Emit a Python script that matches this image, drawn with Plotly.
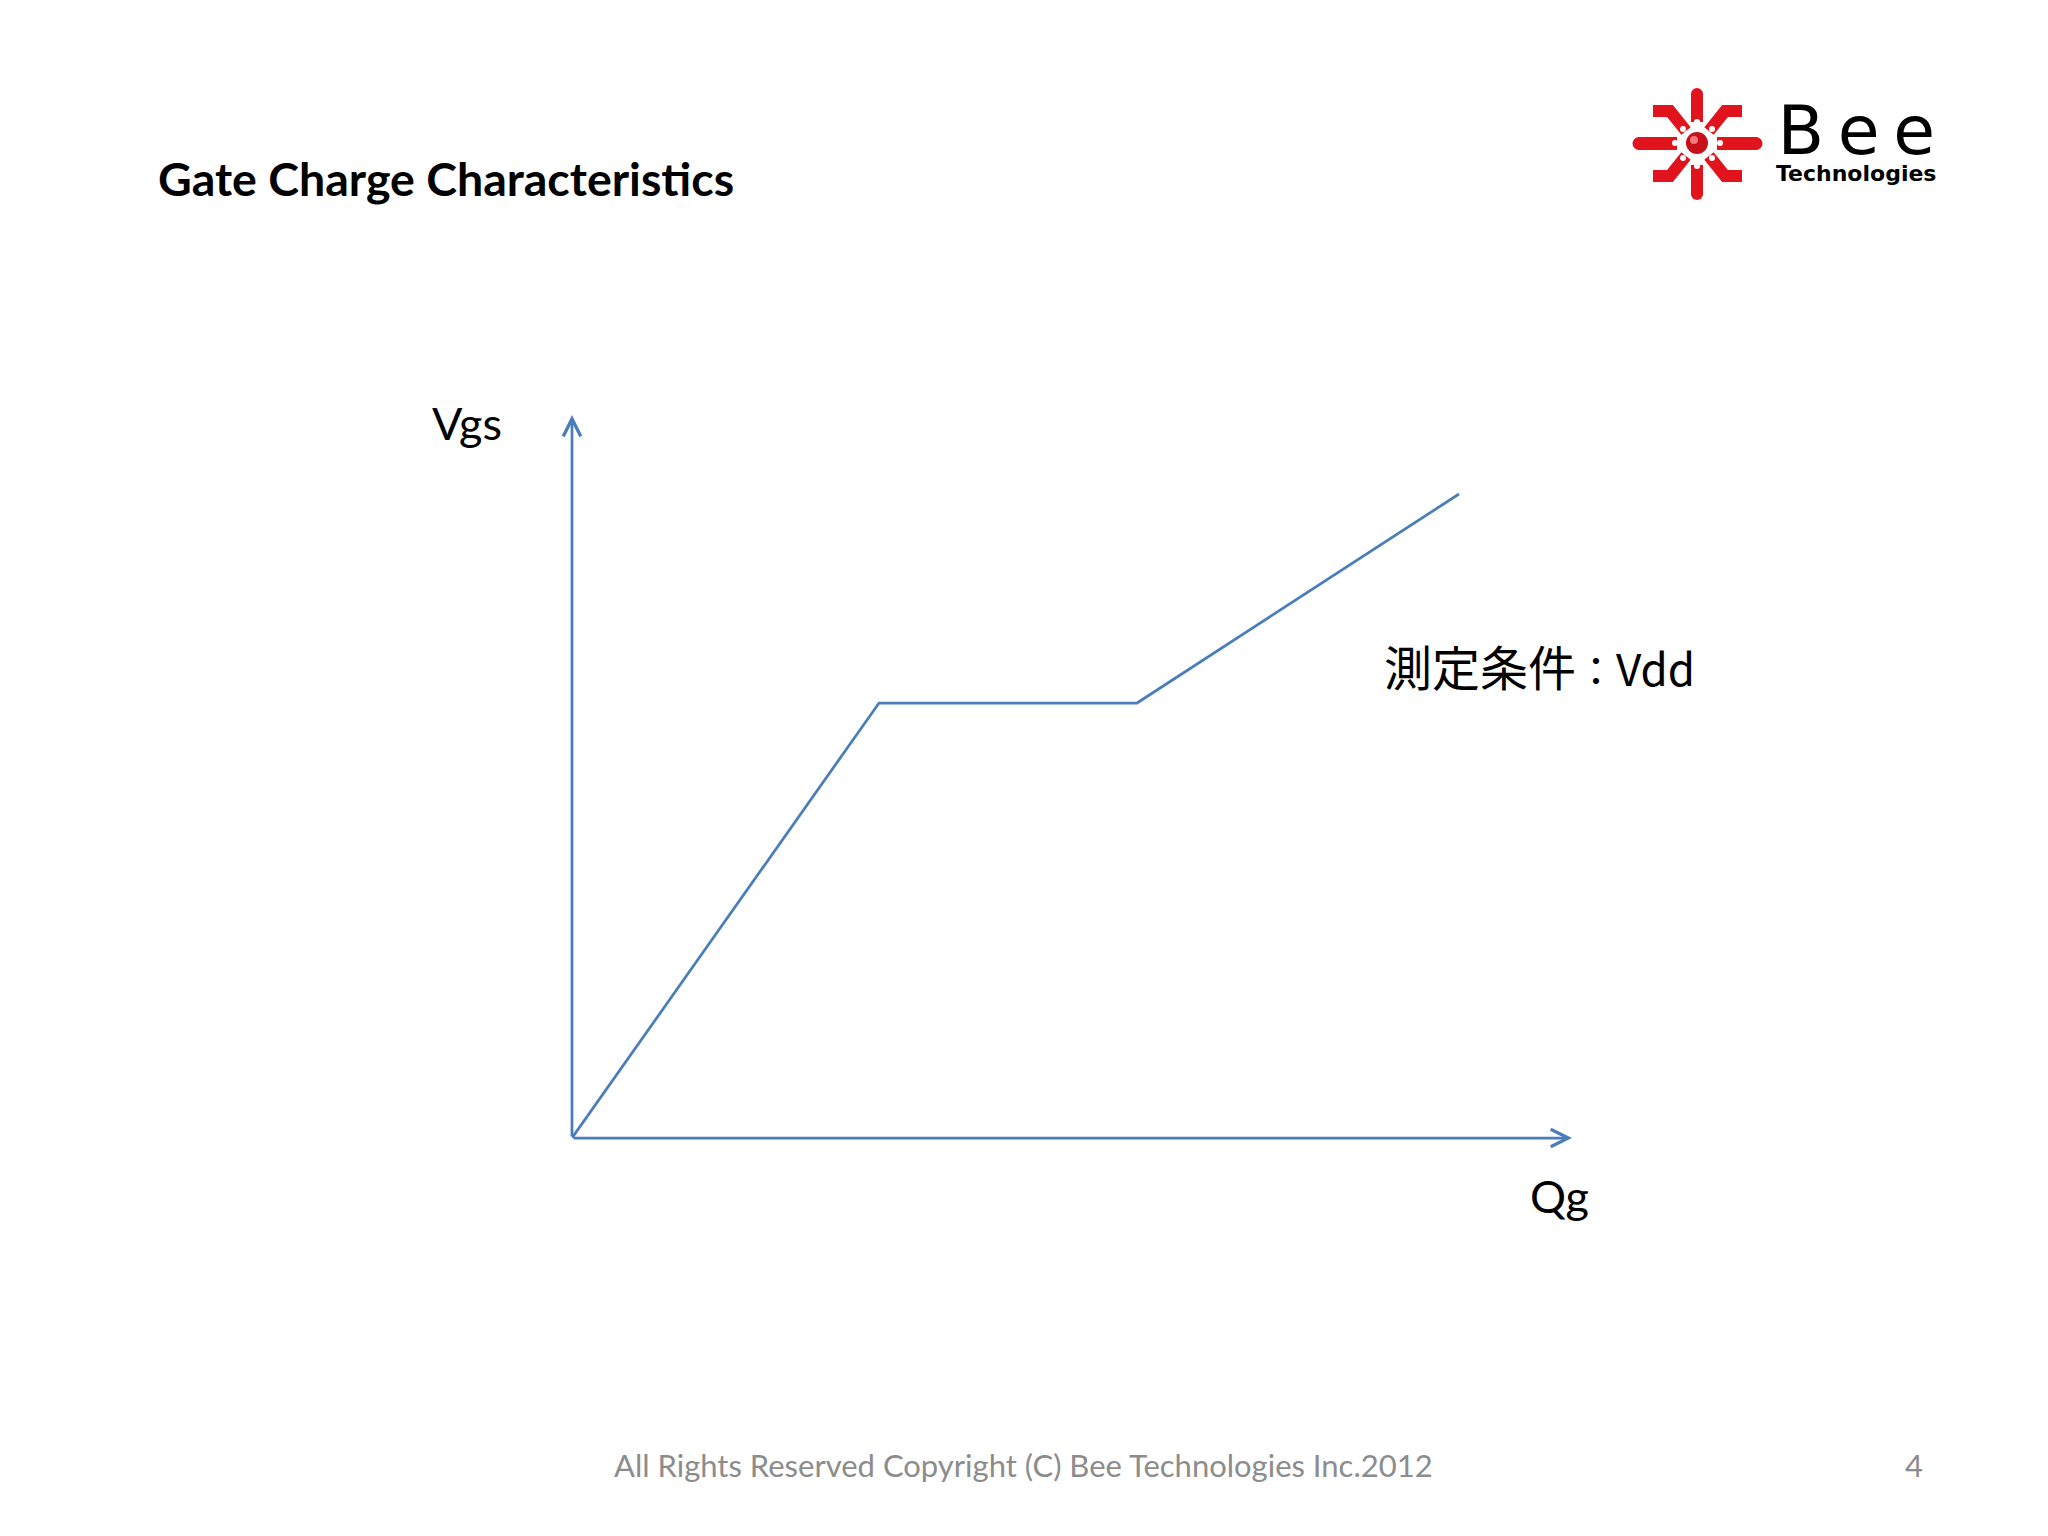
import plotly.graph_objects as go

# ---- data (arbitrary units) ----
qg = [0, 307, 565, 887]
vgs = [0, 435, 435, 644]
qg_axis_end = 1000
vgs_axis_end = 723

title_text = "Gate Charge Characteristics"
y_label = "Vgs"
x_label = "Qg"
condition_cjk = "測定条件"
condition_sep = "："
condition_latin = "Vdd"
footer_text = "All Rights Reserved Copyright (C) Bee Technologies Inc.2012"
page_no = "4"
logo_word = "Bee"
logo_sub = "Technologies"

W, H = 2048, 1536
BLUE = "#4A7EBB"
RED = "#E1141E"


def PX(x):
    return x / W


def PY(y):
    return 1 - y / H


fig = go.Figure()

fig.add_trace(go.Scatter(x=qg, y=vgs, mode="lines",
                         line=dict(color=BLUE, width=2.75),
                         hoverinfo="skip", showlegend=False))

fig.update_layout(
    width=W, height=H, autosize=False,
    margin=dict(l=0, r=0, t=0, b=0),
    paper_bgcolor="white", plot_bgcolor="rgba(0,0,0,0)",
    xaxis=dict(domain=[572 / W, 1572 / W], range=[0, qg_axis_end], visible=False, fixedrange=True),
    yaxis=dict(domain=[(H - 1138) / H, (H - 415) / H], range=[0, vgs_axis_end], visible=False, fixedrange=True),
)

ann = []
ann.append(dict(x=qg_axis_end, y=0, ax=0, ay=0, xref="x", yref="y", axref="x", ayref="y",
                text="", showarrow=True, arrowhead=5, arrowwidth=2.75, arrowsize=1.25,
                arrowcolor=BLUE, standoff=0))
ann.append(dict(x=0, y=vgs_axis_end, ax=0, ay=0, xref="x", yref="y", axref="x", ayref="y",
                text="", showarrow=True, arrowhead=5, arrowwidth=2.75, arrowsize=1.25,
                arrowcolor=BLUE, standoff=0))


def txt(x, y, s, size, family="Lato", color="black", xanchor="left", yanchor="middle", bold=False):
    if bold:
        s = "<b>" + s + "</b>"
    return dict(x=PX(x), y=PY(y), xref="paper", yref="paper", text=s, showarrow=False,
                xanchor=xanchor, yanchor=yanchor,
                font=dict(family=family, size=size, color=color))


ann.append(txt(156, 178, title_text, 46.5, bold=True))
ann.append(txt(430, 423, y_label, 45))
ann.append(txt(1528, 1196, x_label, 45))
ann.append(txt(1382, 665,
               condition_cjk + '<span style="font-size:40px">' + condition_sep + "</span>"
               + '<span style="font-size:44px">' + condition_latin + "</span>",
               48, family="Noto Sans CJK JP"))
ann.append(txt(612, 1465, footer_text, 31, color="#8C8C8C"))
ann.append(txt(1925, 1465, page_no, 31, color="#8C8C8C", xanchor="right"))

# logo text: word + subtitle in one block
spaced = "\u2009".join(logo_word)
logo_html = ('<span style="font-size:68px">' + spaced + "</span><br>"
             + '<span style="font-size:22px"><b>' + logo_sub + "</b></span>")
logo_ann = txt(1856, 139, logo_html, 20.5, family="DejaVu Sans", xanchor="center")
logo_ann["align"] = "center"
ann.append(logo_ann)

fig.update_layout(annotations=ann)

shapes = []


def rect(x0, y0, x1, y1, color=RED):
    return dict(type="rect", xref="paper", yref="paper", x0=PX(x0), y0=PY(y0), x1=PX(x1), y1=PY(y1),
                fillcolor=color, line=dict(width=0), layer="above")


def circ(cx, cy, r, color):
    return dict(type="circle", xref="paper", yref="paper",
                x0=PX(cx - r), y0=PY(cy - r), x1=PX(cx + r), y1=PY(cy + r),
                fillcolor=color, line=dict(width=0), layer="above")


def poly(pts, width=12):
    d = "M " + " L ".join(f"{PX(x)},{PY(y)}" for x, y in pts)
    return dict(type="path", xref="paper", yref="paper", path=d,
                line=dict(color=RED, width=width), layer="above")


cx, cy = 1697, 143
shapes.append(rect(1638, 137, 1677, 150))
shapes.append(rect(1717, 137, 1757, 150))
shapes.append(rect(1691, 93, 1703, 122))
shapes.append(rect(1691, 165, 1703, 195))
shapes.append(circ(1639, 143.5, 6.5, RED))
shapes.append(circ(1756, 143.5, 6.5, RED))
shapes.append(circ(1697, 94, 6, RED))
shapes.append(circ(1697, 194, 6, RED))
shapes.append(poly([(1653, 111), (1670, 111), (1686, 131)]))
shapes.append(poly([(1742, 111), (1725, 111), (1709, 131)]))
shapes.append(poly([(1653, 176), (1670, 176), (1686, 156)]))
shapes.append(poly([(1742, 176), (1725, 176), (1709, 156)]))
shapes.append(circ(cx, cy, 11, "#C8101A"))
shapes.append(circ(cx - 3, cy - 3, 4, "#F27A7A"))
for (dx, dy) in [(1675, 143), (1720, 143), (1697, 122), (1697, 166),
                 (1683, 129), (1712, 129), (1683, 158), (1712, 158)]:
    shapes.append(circ(dx, dy, 3, "white"))

fig.update_layout(shapes=shapes)

fig.write_html("out.html", config={"displayModeBar": False, "staticPlot": True},
               post_script="document.body.style.margin='0';")
